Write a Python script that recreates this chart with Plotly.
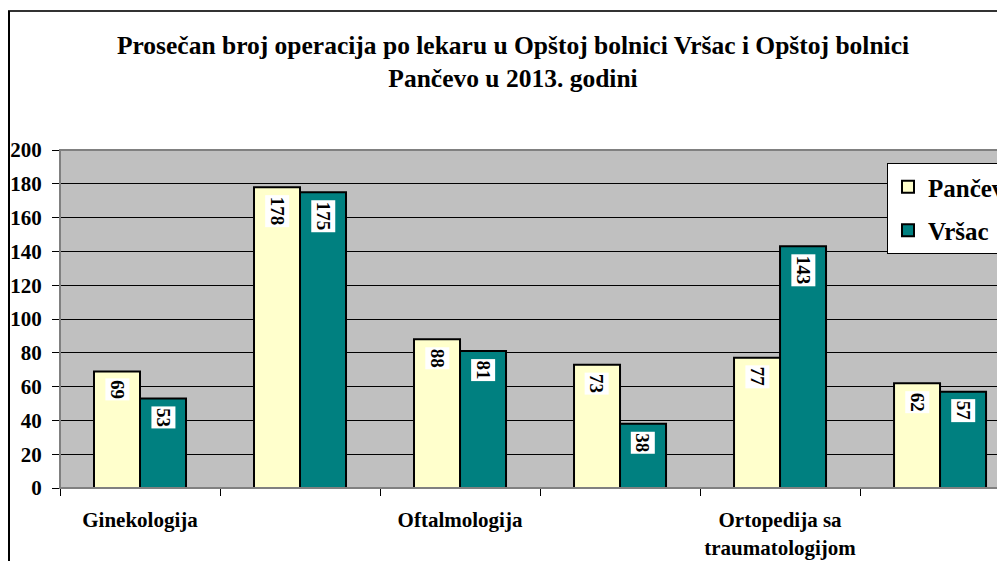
import plotly.graph_objects as go

categories = ["Ginekologija", "Hirurgija", "Oftalmologija", "Otorinolaringologija",
              "Ortopedija sa traumatologijom", "Urologija"]
tick_labels = ["Ginekologija", "", "Oftalmologija", "", "Ortopedija sa<br>traumatologijom", ""]
pancevo = [69, 178, 88, 73, 77, 62]
vrsac = [53, 175, 81, 38, 143, 57]
series_names = ["Pančevo", "Vršac"]
title_text = ("Prosečan broj operacija po lekaru u Opštoj bolnici Vršac i Opštoj bolnici"
              "<br>Pančevo u 2013. godini")

OFF = 8  # page body margin
W, H = 1005 - OFF, 561 - OFF
ML, MR, MT, MB = 60 - OFF, 0, 150 - OFF, H - (488 - OFF)
BARGAP = 0.425
X_RANGE = [-0.5, 5.406]

plot_w = W - ML - MR
plot_h = H - MT - MB
cat_px = plot_w / (X_RANGE[1] - X_RANGE[0])
bar_px = cat_px * (1 - BARGAP) / 2

FONT = "Liberation Serif"

fig = go.Figure()
fig.add_trace(go.Bar(x=categories, y=pancevo, name=series_names[0], legendgroup="a",
                     marker=dict(color="#FFFFCC", line=dict(color="black", width=2))))
fig.add_trace(go.Bar(x=categories, y=vrsac, name=series_names[1], legendgroup="b",
                     marker=dict(color="#008080", line=dict(color="black", width=2))))

annotations = []
for vals, sign in ((pancevo, -1), (vrsac, 1)):
    for c, v in zip(categories, vals):
        annotations.append(dict(
            x=c, y=v, xref="x", yref="y", text=f"<b>{v}</b>", showarrow=False,
            textangle=90, xanchor="center", yanchor="top", xshift=sign * bar_px / 2,
            yshift=-7, bgcolor="white", borderpad=1,
            font=dict(family=FONT, size=19, color="black")))


def px_to_paper_x(px):
    return (px - OFF - ML) / plot_w


def px_to_paper_y(py):
    return (H - MB - (py - OFF)) / plot_h


shapes = [
    dict(type="rect", xref="paper", yref="paper", x0=0, x1=1, y0=0, y1=1,
         line=dict(color="#808080", width=2), layer="above"),
    dict(type="line", xref="paper", yref="paper", x0=px_to_paper_x(8), x1=px_to_paper_x(1010),
         y0=px_to_paper_y(11), y1=px_to_paper_y(11), line=dict(color="#333333", width=2)),
    dict(type="line", xref="paper", yref="paper", x0=px_to_paper_x(9), x1=px_to_paper_x(9),
         y0=px_to_paper_y(11), y1=px_to_paper_y(566), line=dict(color="black", width=2)),
]

fig.update_layout(
    width=W, height=H,
    margin=dict(l=ML, r=MR, t=MT, b=MB, autoexpand=False),
    paper_bgcolor="white", plot_bgcolor="#C0C0C0",
    barmode="group", bargap=BARGAP, bargroupgap=0,
    title=dict(text=f"<b>{title_text}</b>", x=px_to_paper_x(513), xref="paper", xanchor="center",
               y=1 - (54 - OFF) / H, yanchor="middle",
               font=dict(family=FONT, size=25.5, color="black")),
    font=dict(family=FONT, color="black"),
    legend=dict(x=px_to_paper_x(887), y=px_to_paper_y(163), xanchor="left", yanchor="top",
                bgcolor="white", bordercolor="black", borderwidth=1,
                traceorder="grouped", tracegroupgap=8,
                font=dict(family=FONT, size=25, color="black", weight="bold")),
    xaxis=dict(range=X_RANGE, tickmode="array", tickvals=categories, ticktext=tick_labels,
               ticks="outside", ticklen=7, tickcolor="black", tickson="boundaries",
               showline=True, linecolor="black", linewidth=1, showgrid=False,
               ticklabelstandoff=13, tickangle=0,
               tickfont=dict(family=FONT, size=21, color="black", weight="bold")),
    yaxis=dict(range=[0, 200], dtick=20, ticks="outside", ticklen=7, tickcolor="black",
               showline=True, linecolor="black", linewidth=1,
               showgrid=True, gridcolor="black", gridwidth=1, zeroline=False,
               ticklabelstandoff=6,
               tickfont=dict(family=FONT, size=21, color="black", weight="bold")),
    annotations=annotations, shapes=shapes,
)

fig.write_html("out.html")
